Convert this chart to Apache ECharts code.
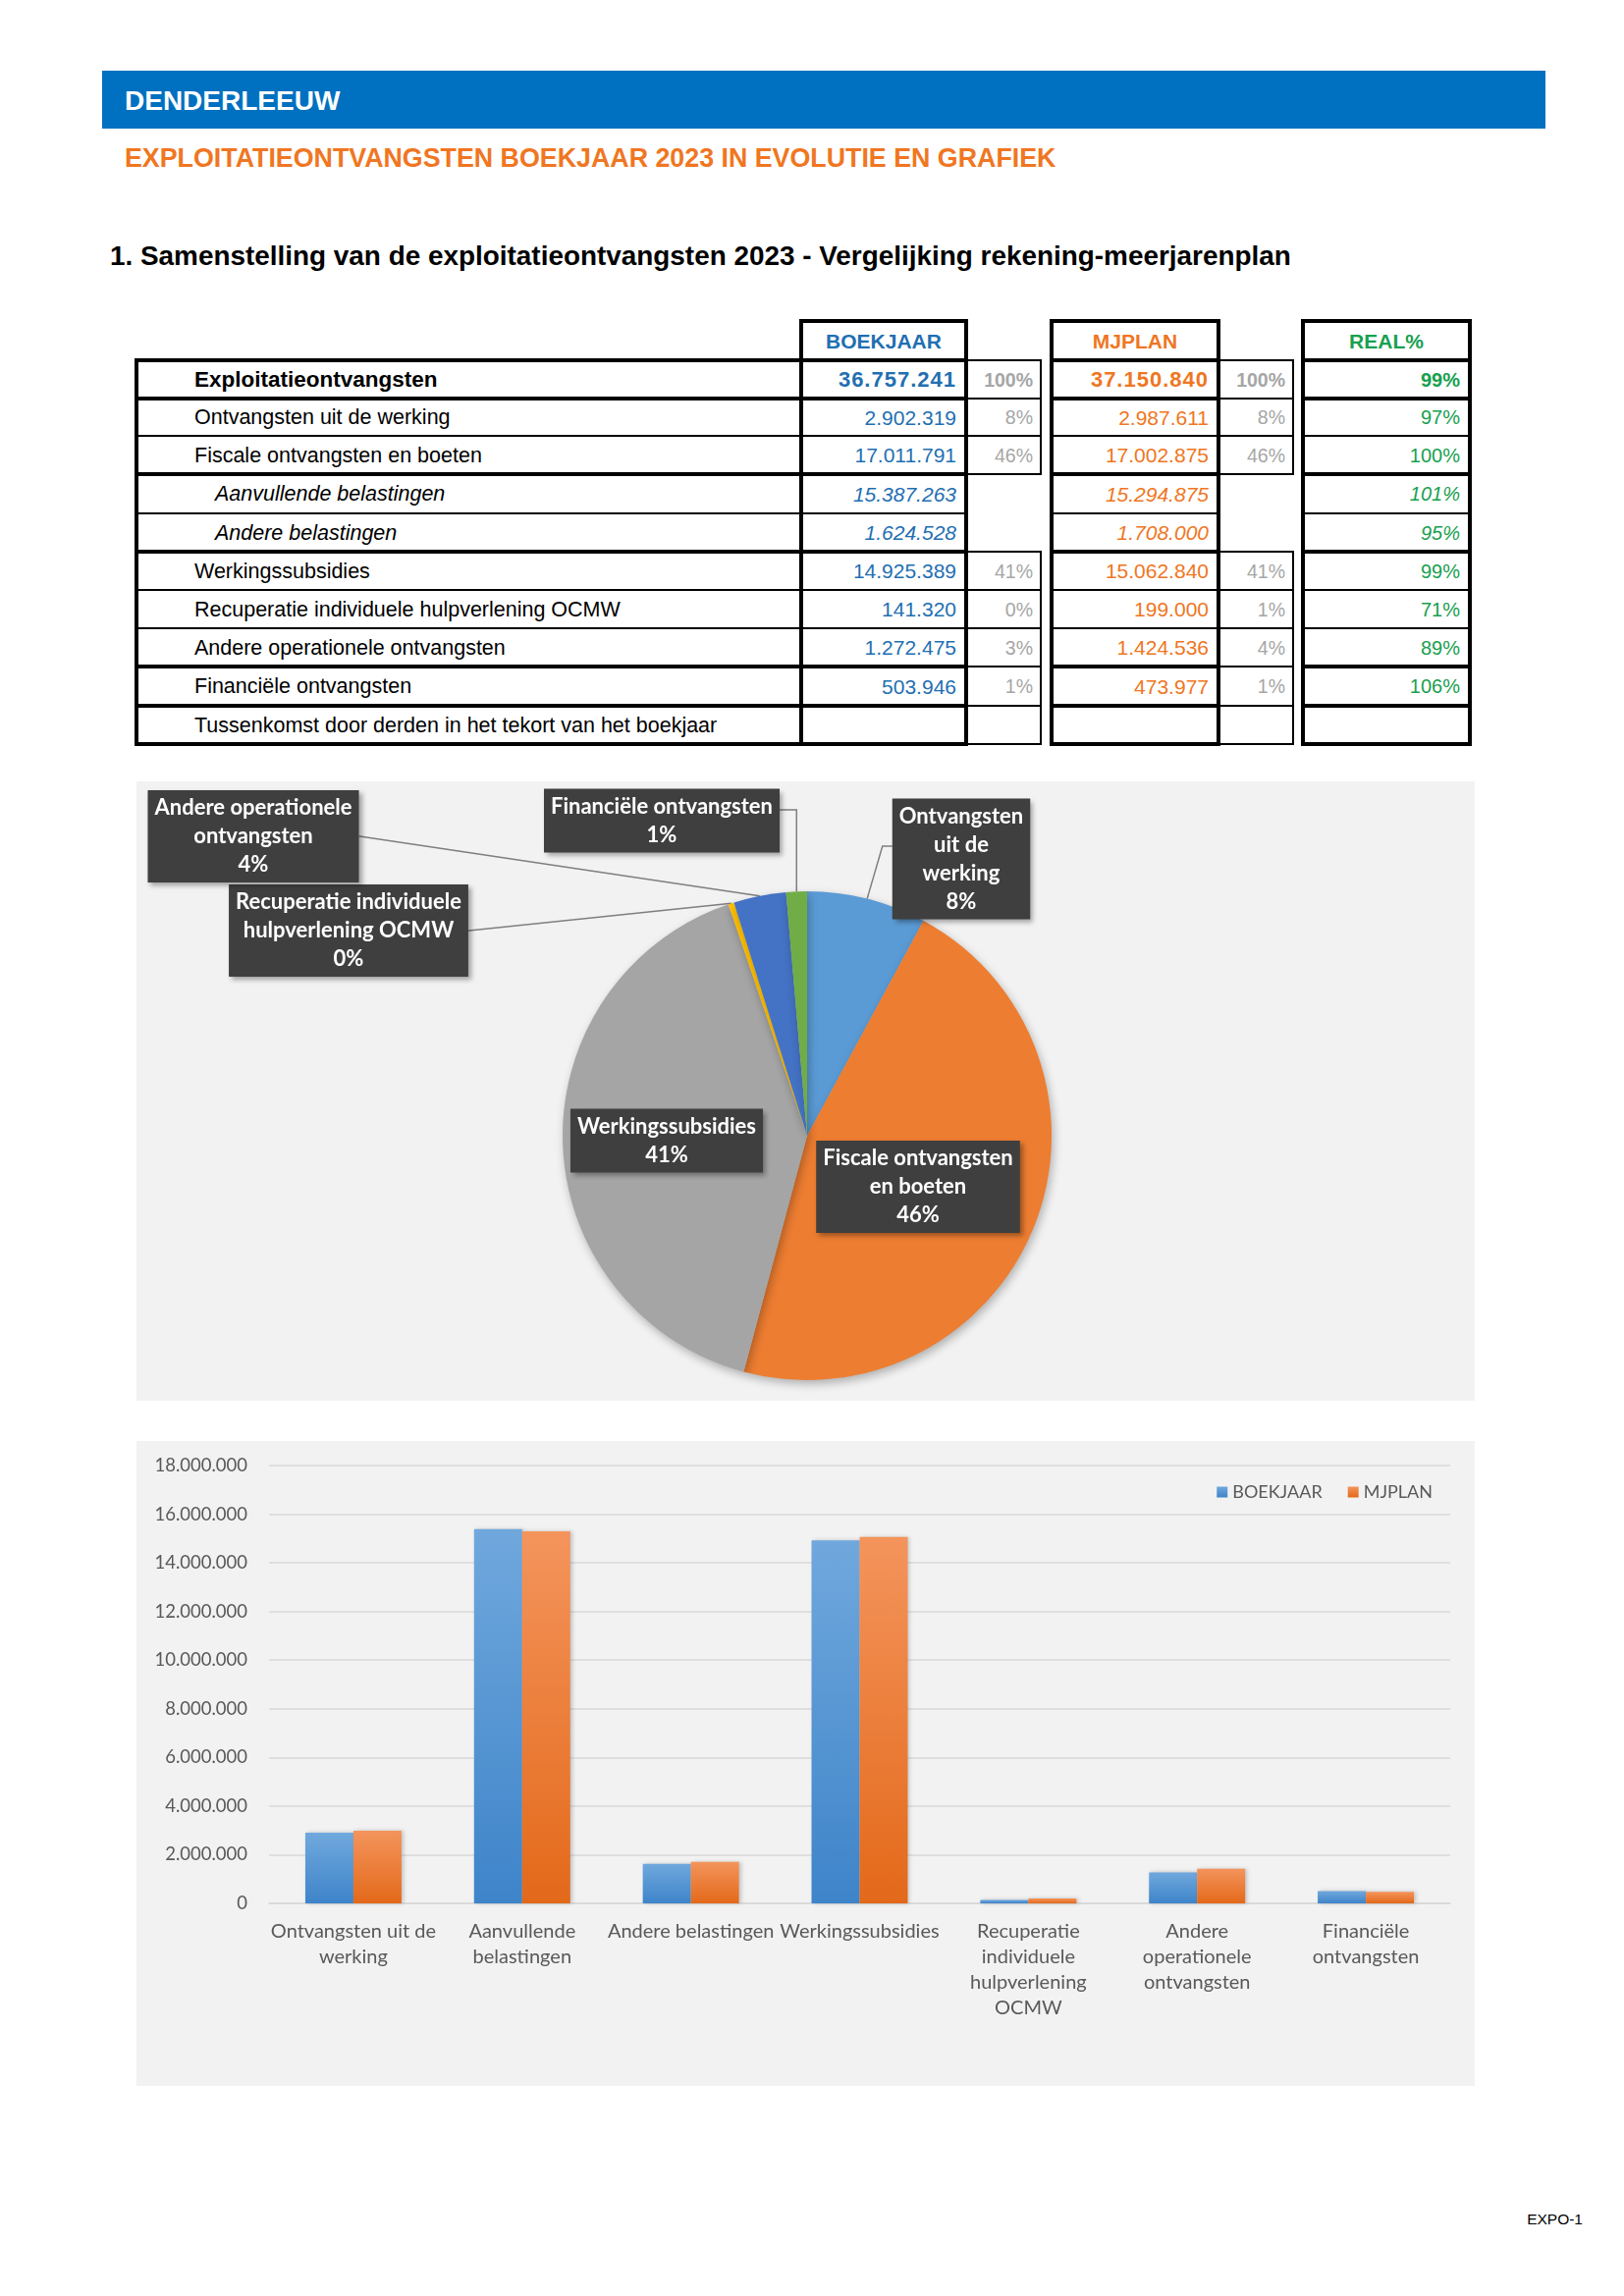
<!DOCTYPE html>
<html><head><meta charset="utf-8">
<script src="https://cdn.jsdelivr.net/npm/echarts@6/dist/echarts.min.js"></script>
<style>
html,body{margin:0;padding:0;background:#fff;}
body{width:1654px;height:2339px;position:relative;overflow:hidden;font-family:"Liberation Sans",Arial,sans-serif;}
.a{position:absolute;white-space:nowrap;}
</style></head><body>
<div class="a" style="left:104px;top:72px;width:1470px;height:59px;background:#0070c0;"></div>
<div class="a" style="left:127px;top:73px;height:59px;line-height:59px;color:#fff;font-weight:bold;font-size:28px;">DENDERLEEUW</div>
<div class="a" style="left:127px;top:146px;height:31px;line-height:31px;color:#f07622;font-weight:bold;font-size:26.8px;">EXPLOITATIEONTVANGSTEN BOEKJAAR 2023 IN EVOLUTIE EN GRAFIEK</div>
<div class="a" style="left:112px;top:245px;height:32px;line-height:32px;color:#000;font-weight:bold;font-size:27.9px;">1. Samenstelling van de exploitatieontvangsten 2023 - Vergelijking rekening-meerjarenplan</div>
<div id="tbl"></div>
<div id="pie" class="a" style="left:139px;top:796px;width:1363px;height:631px;"></div>
<div id="bar" class="a" style="left:139px;top:1468px;width:1363px;height:657px;"></div>
<div class="a" style="left:1530px;top:2250px;width:82px;text-align:right;font-size:15.5px;line-height:22px;color:#000;">EXPO-1</div>
<script>
// ---------- DATA ----------
const rowLabels = ['Exploitatieontvangsten','Ontvangsten uit de werking','Fiscale ontvangsten en boeten','Aanvullende belastingen','Andere belastingen','Werkingssubsidies','Recuperatie individuele hulpverlening OCMW','Andere operationele ontvangsten','Financiële ontvangsten','Tussenkomst door derden in het tekort van het boekjaar'];
const boekjaarValues = [36757241, 2902319, 17011791, 15387263, 1624528, 14925389, 141320, 1272475, 503946, null];
const boekjaarPct = [100, 8, 46, null, null, 41, 0, 3, 1, null];
const mjplanValues = [37150840, 2987611, 17002875, 15294875, 1708000, 15062840, 199000, 1424536, 473977, null];
const mjplanPct = [100, 8, 46, null, null, 41, 1, 4, 1, null];
const realPct = [99, 97, 100, 101, 95, 99, 71, 89, 106, null];
const tableHeaders = ['BOEKJAAR', 'MJPLAN', 'REAL%'];

const pieCategories = ['Ontvangsten uit de werking','Fiscale ontvangsten en boeten','Werkingssubsidies','Recuperatie individuele hulpverlening OCMW','Andere operationele ontvangsten','Financiële ontvangsten'];
const pieValues = [2902319, 17011791, 14925389, 141320, 1272475, 503946];
const pieLabelText = ['Ontvangsten\nuit de\nwerking','Fiscale ontvangsten\nen boeten','Werkingssubsidies','Recuperatie individuele\nhulpverlening OCMW','Andere operationele\nontvangsten','Financiële ontvangsten'];

const barCategories = ['Ontvangsten uit de werking','Aanvullende belastingen','Andere belastingen','Werkingssubsidies','Recuperatie individuele hulpverlening OCMW','Andere operationele ontvangsten','Financiële ontvangsten'];
const barCategoryLabels = ['Ontvangsten uit de\nwerking','Aanvullende\nbelastingen','Andere belastingen','Werkingssubsidies','Recuperatie\nindividuele\nhulpverlening\nOCMW','Andere\noperationele\nontvangsten','Financiële\nontvangsten'];
const boekjaarBars = [2902319, 15387263, 1624528, 14925389, 141320, 1272475, 503946];
const mjplanBars = [2987611, 15294875, 1708000, 15062840, 199000, 1424536, 473977];
const yAxisMin = 0, yAxisMax = 18000000, yAxisStep = 2000000;

// ---------- HELPERS ----------
function fmt(n){ return String(n).replace(/\B(?=(\d{3})+(?!\d))/g, '.'); }
const tbl = document.getElementById('tbl');
function el(css, text){ const d=document.createElement('div'); d.className='a'; d.style.cssText=css; if(text!=null) d.textContent=text; tbl.appendChild(d); return d; }
function hl(x1,x2,y,w){ el(`left:${x1}px;top:${y-w/2}px;width:${x2-x1}px;height:${w}px;background:#000;`); }
function vl(x,y1,y2,w){ el(`left:${x-w/2}px;top:${y1}px;width:${w}px;height:${y2-y1}px;background:#000;`); }

// ---------- TABLE LAYOUT ----------
const L = {
  headTop: 327, rowY: [367,406,444,483,523,562,601,640,679,719,758],
  labX: 139, c1: [816,984], p1: [984,1060], c2: [1071,1241], p2: [1241,1317], c3: [1327,1497],
  thick: 3.5, thin: 2, pthin: 1.5
};
const sepThick = [true,true,false,true,false,true,false,false,true,true,true];
const colors = { b:'#1f6fb2', m:'#ef7622', r:'#17a050', g:'#a6a6a6' };

// header boxes
[[L.c1,colors.b],[L.c2,colors.m],[L.c3,colors.r]].forEach((c,i)=>{
  hl(c[0][0]-L.thick/2, c[0][1]+L.thick/2, L.headTop, L.thick);
  el(`left:${c[0][0]}px;top:${L.headTop}px;width:${c[0][1]-c[0][0]}px;height:${L.rowY[0]-L.headTop}px;line-height:${L.rowY[0]-L.headTop+2}px;text-align:center;font-weight:bold;font-size:21px;color:${c[1]};`, tableHeaders[i]);
});
// horizontal lines
L.rowY.forEach((y,i)=>{
  const w = sepThick[i] ? L.thick : L.thin;
  hl(L.labX, L.c1[1], y, w);
  hl(L.c2[0], L.c2[1], y, w);
  hl(L.c3[0], L.c3[1], y, w);
  if (i<=3 || i>=5){ hl(L.p1[0], L.p1[1]+1, y, L.pthin); hl(L.p2[0], L.p2[1]+1, y, L.pthin); }
});
// vertical lines
const top0 = L.headTop, bot = L.rowY[10];
vl(L.labX, L.rowY[0]-L.thick/2, bot+L.thick/2, L.thick);
[L.c1[0],L.c1[1],L.c2[0],L.c2[1],L.c3[0],L.c3[1]].forEach(x=>vl(x, top0-L.thick/2, bot+L.thick/2, L.thick));
[L.p1[1], L.p2[1]].forEach(x=>{ vl(x, L.rowY[0], L.rowY[3], L.pthin); vl(x, L.rowY[5], L.rowY[10], L.pthin); });

// cell texts
rowLabels.forEach((lab,i)=>{
  const t=L.rowY[i], h=L.rowY[i+1]-t;
  const bold = i===0, ital = (i===3||i===4);
  const base = `top:${t}px;height:${h}px;line-height:${h+1}px;${bold?'font-weight:bold;':''}${ital?'font-style:italic;':''}`;
  el(base+`font-size:${bold?22.5:21.5}px;left:${ital?219:198}px;color:#000;`, lab);
  const numCss = bold ? 'font-size:22px;letter-spacing:1px;' : 'font-size:21px;';
  if (boekjaarValues[i]!=null) el(base+numCss+`left:${L.c1[0]}px;width:${L.c1[1]-L.c1[0]-10}px;text-align:right;color:${colors.b};`, fmt(boekjaarValues[i]));
  if (boekjaarPct[i]!=null) el(base+`font-size:19.5px;left:${L.p1[0]}px;width:${L.p1[1]-L.p1[0]-8}px;text-align:right;color:${colors.g};`, boekjaarPct[i]+'%');
  if (mjplanValues[i]!=null) el(base+numCss+`left:${L.c2[0]}px;width:${L.c2[1]-L.c2[0]-10}px;text-align:right;color:${colors.m};`, fmt(mjplanValues[i]));
  if (mjplanPct[i]!=null) el(base+`font-size:19.5px;left:${L.p2[0]}px;width:${L.p2[1]-L.p2[0]-8}px;text-align:right;color:${colors.g};`, mjplanPct[i]+'%');
  if (realPct[i]!=null) el(base+`font-size:20px;left:${L.c3[0]}px;width:${L.c3[1]-L.c3[0]-10}px;text-align:right;color:${colors.r};`, realPct[i]+'%');
});

// ---------- PIE ----------
const pieColors = ['#5b9bd5','#ed7d31','#a5a5a5','#ffc000','#4472c4','#70ad47'];
const pieLabelPos = [ [840,79], [796,413], [540,366], [216,152], [119,56], [535,40] ];
const pieChart = echarts.init(document.getElementById('pie'));
pieChart.setOption({
  backgroundColor:'#f2f2f2',
  animation:false,
  series:[{
    type:'pie', center:[683,361], radius:[0,249], startAngle:90, clockwise:true,
    percentPrecision:0, avoidLabelOverlap:false,
    data: pieCategories.map((n,i)=>({name:n, value:pieValues[i], itemStyle:{color:pieColors[i]}, labelLine:{show: !(i===1||i===2)}})),
    itemStyle:{shadowBlur:10, shadowOffsetX:2, shadowOffsetY:4, shadowColor:'rgba(0,0,0,0.28)'},
    label:{
      show:true, position:'outside',
      formatter: p => pieLabelText[p.dataIndex] + '\n' + p.percent + '%',
      color:'#fff', fontFamily:'Lato', fontWeight:'bold', fontSize:22, lineHeight:29,
      backgroundColor:'#3f3f3f', padding:[4,7,3,7], align:'center',
      shadowColor:'rgba(0,0,0,0.35)', shadowBlur:5, shadowOffsetX:3, shadowOffsetY:3
    },
    labelLine:{show:true, length:10, length2:10, lineStyle:{color:'#7f7f7f', width:1.5}},
    labelLayout: function(params){
      const i = params.dataIndex, p = pieLabelPos[i];
      const w = params.labelRect.width;
      const res = {x:p[0], y:p[1], align:'center', verticalAlign:'middle'};
      const pts = params.labelLinePoints;
      if (pts && pts.length) {
        const s = pts[0]; let m, e;
        if (i===0){ e=[p[0]-w/2, 66]; m=[e[0]-10, 66]; }
        else if (i===3 || i===4){ e=[p[0]+w/2, p[1]]; m=[e[0]+1, e[1]]; }
        else if (i===5){ e=[p[0]+w/2, p[1]-11]; m=[s[0], e[1]]; }
        if (e) res.labelLinePoints=[s, m, e];
      }
      return res;
    }
  }]
});

// ---------- BAR ----------
function grad(top, bottom){ return new echarts.graphic.LinearGradient(0,0,0,1,[{offset:0,color:top},{offset:1,color:bottom}]); }
const barChart = echarts.init(document.getElementById('bar'));
barChart.setOption({
  backgroundColor:'#f2f2f2',
  animation:false,
  textStyle:{fontFamily:'Lato'},
  legend:{data:['BOEKJAAR','MJPLAN'], right:38, top:38, icon:'rect', itemWidth:11, itemHeight:11, itemGap:26,
    textStyle:{fontSize:18, color:'#595959', fontFamily:'Lato'}},
  grid:{left:135, right:25, top:25, bottom:186, containLabel:false, outerBoundsMode:'none'},
  xAxis:{type:'category', data:barCategories,
    axisLine:{lineStyle:{color:'#d9d9d9', width:1.5}}, axisTick:{show:false},
    axisLabel:{interval:0, margin:16, fontSize:20, lineHeight:26, color:'#595959', fontFamily:'Lato',
      formatter:(v,i)=>barCategoryLabels[i]}},
  yAxis:{type:'value', min:yAxisMin, max:yAxisMax, interval:yAxisStep,
    axisLine:{show:false}, axisTick:{show:false},
    splitLine:{lineStyle:{color:'#d9d9d9', width:1.5}},
    axisLabel:{margin:22, fontSize:18.5, color:'#595959', fontFamily:'Lato', formatter:v=>fmt(v)}},
  series:[
    {name:'BOEKJAAR', type:'bar', data:boekjaarBars, barGap:'0%', barCategoryGap:'43%',
      itemStyle:{color:grad('#70a8dd','#3e84c9'), shadowBlur:4, shadowOffsetX:2, shadowColor:'rgba(0,0,0,0.2)'}},
    {name:'MJPLAN', type:'bar', data:mjplanBars, barGap:'0%', barCategoryGap:'43%',
      itemStyle:{color:grad('#f4945c','#e3691a'), shadowBlur:4, shadowOffsetX:2, shadowColor:'rgba(0,0,0,0.2)'}}
  ]
});
</script>
</body></html>
